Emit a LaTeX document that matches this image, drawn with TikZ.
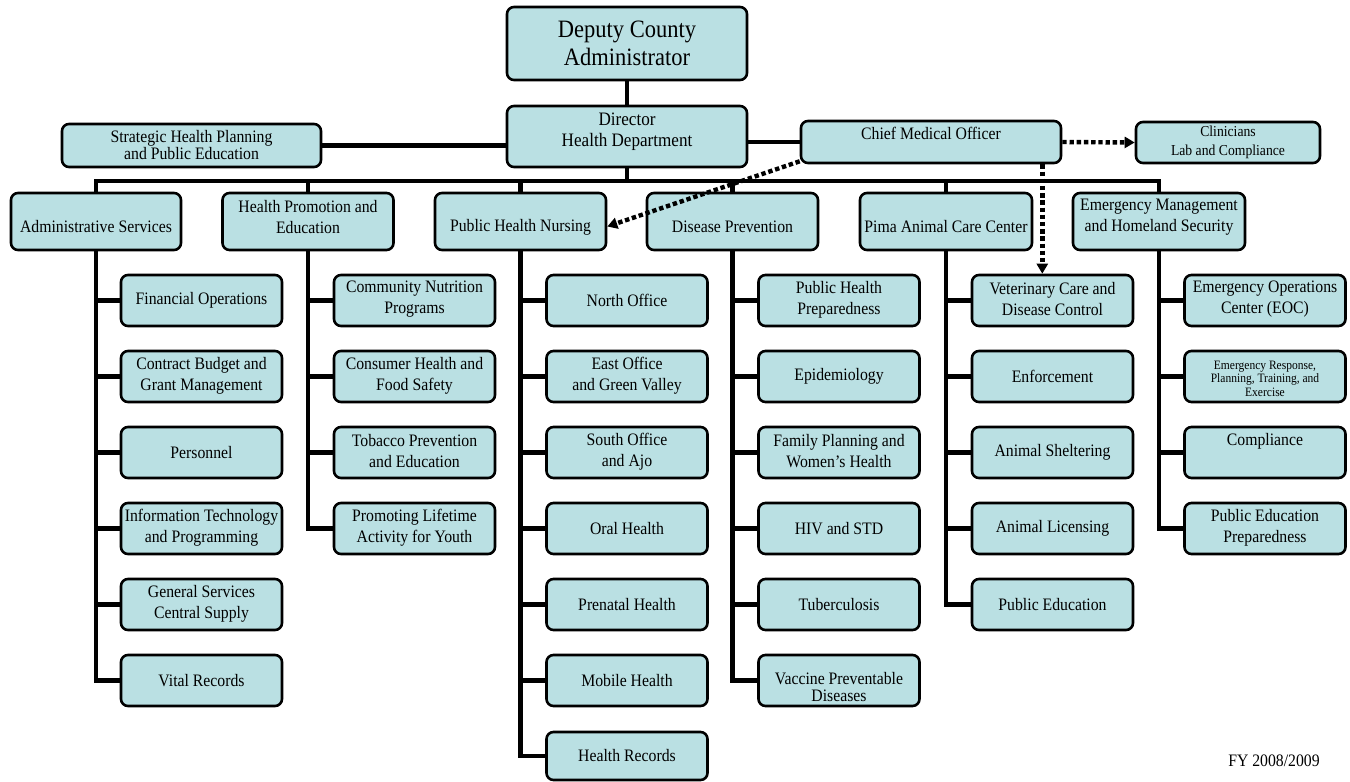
\documentclass[tikz,border=0pt]{standalone}
\usepackage{fontspec}
\setmainfont[FakeStretch=0.9]{Liberation Serif}
\usetikzlibrary{arrows.meta,calc}
\definecolor{boxfill}{RGB}{186,224,227}
\newcommand\orgbox[8]{%
  \node[obox, minimum width={#4*0.5pt}, minimum height={#5*0.5pt}] (#1) at (#2,#3) {};
  \node[otext,#7] (#1-t) at ($(#1.center)+(0,#6)$) {#8};}
\begin{document}
\begin{tikzpicture}[x=0.5pt,y=-0.5pt,
  obox/.style={draw=black, fill=boxfill, line width=1.3pt, rounded corners=3.5pt, inner sep=0pt},
  otext/.style={align=center, inner sep=0pt, font=\fontsize{8.75pt}{10.5pt}\selectfont},
  bigtext/.style={font=\fontsize{12.5pt}{13.8pt}\selectfont},
  dirtext/.style={font=\fontsize{9.5pt}{10.5pt}\selectfont},
  tighttext/.style={font=\fontsize{8.75pt}{8.5pt}\selectfont},
  smalltext/.style={font=\fontsize{7.6pt}{9.5pt}\selectfont},
  tinytext/.style={font=\fontsize{6.4pt}{6.75pt}\selectfont},
  conn/.style={line width=2.4pt, line join=miter},
  dotarrow/.style={line width=2.2pt, dash pattern=on 2.2pt off 1.4pt, -{Triangle[length=5pt,width=5.5pt]}},
]
\useasboundingbox (0,0) rectangle (1350,782);
% top level
\orgbox{dep}{627}{43.5}{240}{73}{0}{bigtext}{Deputy County\\Administrator}
\orgbox{dir}{627}{136.5}{240}{61}{-5}{dirtext}{Director\\Health Department}
\orgbox{strat}{191.5}{145.5}{259}{43}{0}{tighttext}{Strategic Health Planning\\and Public Education}
\orgbox{cmo}{931}{142}{260}{42}{-9}{}{Chief Medical Officer}
\orgbox{clin}{1228}{142.5}{184}{41}{0}{smalltext}{Clinicians\\Lab and Compliance}
% level 2
\orgbox{adm}{96}{221.5}{170}{57}{5.5}{}{Administrative Services}
\orgbox{hp}{308}{221.5}{171}{57}{-4.5}{}{Health Promotion and\\Education}
\orgbox{phn}{520.5}{221.5}{171}{57}{5.5}{}{Public Health Nursing}
\orgbox{dp}{732.5}{221.5}{171}{57}{5.5}{}{Disease Prevention}
\orgbox{pima}{946}{221.5}{172}{57}{5.5}{}{Pima Animal Care Center}
\orgbox{em}{1159}{221.5}{172}{57}{-4.5}{}{Emergency Management\\and Homeland Security}
% administrative services
\orgbox{a1}{201.5}{300.5}{161}{51}{0}{}{Financial Operations}
\orgbox{a2}{201.5}{376.5}{161}{51}{-1}{}{Contract Budget and\\Grant Management}
\orgbox{a3}{201.5}{452.5}{161}{51}{0}{}{Personnel}
\orgbox{a4}{201.5}{528.5}{161}{51}{-1}{}{Information Technology\\and Programming}
\orgbox{a5}{201.5}{604.5}{161}{51}{-1}{}{General Services\\Central Supply}
\orgbox{a6}{201.5}{680.5}{161}{51}{0}{}{Vital Records}
% health promotion
\orgbox{h1}{414.5}{300.5}{161}{51}{-1}{}{Community Nutrition\\Programs}
\orgbox{h2}{414.5}{376.5}{161}{51}{-1}{}{Consumer Health and\\Food Safety}
\orgbox{h3}{414.5}{452.5}{161}{51}{-1}{}{Tobacco Prevention\\and Education}
\orgbox{h4}{414.5}{528.5}{161}{51}{-1}{}{Promoting Lifetime\\Activity for Youth}
% public health nursing
\orgbox{p1}{627}{300.5}{161}{51}{0}{}{North Office}
\orgbox{p2}{627}{376.5}{161}{51}{-1}{}{East Office\\and Green Valley}
\orgbox{p3}{627}{452.5}{161}{51}{-1}{}{South Office\\and Ajo}
\orgbox{p4}{627}{528.5}{161}{51}{0}{}{Oral Health}
\orgbox{p5}{627}{604.5}{161}{51}{0}{}{Prenatal Health}
\orgbox{p6}{627}{680.5}{161}{51}{0}{}{Mobile Health}
\orgbox{p7}{627}{756}{161}{48}{0}{}{Health Records}
% disease prevention
\orgbox{d1}{839}{300.5}{161}{51}{-1}{}{Public Health\\Preparedness}
\orgbox{d2}{839}{376.5}{161}{51}{0}{}{Epidemiology}
\orgbox{d3}{839}{452.5}{161}{51}{-1}{}{Family Planning and\\Women’s Health}
\orgbox{d4}{839}{528.5}{161}{51}{0}{}{HIV and STD}
\orgbox{d5}{839}{604.5}{161}{51}{0}{}{Tuberculosis}
\orgbox{d6}{839}{680.5}{161}{51}{7}{tighttext}{Vaccine Preventable\\Diseases}
% pima animal care
\orgbox{m1}{1052.5}{300.5}{161}{51}{-1}{}{Veterinary Care and\\Disease Control}
\orgbox{m2}{1052.5}{376.5}{161}{51}{0}{}{Enforcement}
\orgbox{m3}{1052.5}{452.5}{161}{51}{0}{}{Animal Sheltering}
\orgbox{m4}{1052.5}{528.5}{161}{51}{0}{}{Animal Licensing}
\orgbox{m5}{1052.5}{604.5}{161}{51}{0}{}{Public Education}
% emergency management
\orgbox{e1}{1265}{300.5}{161}{51}{-1}{}{Emergency Operations\\Center (EOC)}
\orgbox{e2}{1265}{376.5}{161}{51}{2}{tinytext}{Emergency Response,\\Planning, Training, and\\Exercise}
\orgbox{e3}{1265}{452.5}{161}{51}{-11.5}{}{Compliance}
\orgbox{e4}{1265}{528.5}{161}{51}{-1}{}{Public Education\\Preparedness}
% connectors top
\draw[conn] (dep.south) -- (dir.north);
\draw[conn] (strat.east) -- (strat.east -| dir.west);
\draw[conn] (cmo.west) -- (cmo.west -| dir.east);
\coordinate (bus) at (627,181);
\draw[conn] (dir.south) -- (dir.south |- bus);
\draw[conn] (adm.north) -- (adm.north |- bus) -- (em.north |- bus) -- (em.north);
\foreach \n in {hp,phn,dp,pima} \draw[conn] (\n.north) -- (\n.north |- bus);
% branches
\draw[conn] (adm.south) |- (a6.west);
\foreach \i in {1,...,5} \draw[conn] (a\i.west) -- (adm.south |- a\i.west);
\draw[conn] (hp.south) |- (h4.west);
\foreach \i in {1,...,3} \draw[conn] (h\i.west) -- (hp.south |- h\i.west);
\draw[conn] (phn.south) |- (p7.west);
\foreach \i in {1,...,6} \draw[conn] (p\i.west) -- (phn.south |- p\i.west);
\draw[conn] (dp.south) |- (d6.west);
\foreach \i in {1,...,5} \draw[conn] (d\i.west) -- (dp.south |- d\i.west);
\draw[conn] (pima.south) |- (m5.west);
\foreach \i in {1,...,4} \draw[conn] (m\i.west) -- (pima.south |- m\i.west);
\draw[conn] (em.south) |- (e4.west);
\foreach \i in {1,...,3} \draw[conn] (e\i.west) -- (em.south |- e\i.west);
% dotted arrows
\coordinate (cmoSW) at ($(cmo.south west)+(0,-3)$);
\coordinate (phnE) at ($(phn.east)+(0,5)$);
\coordinate (cmoS) at ($(cmo.south east)+(-20,0)$);
\coordinate (vetN) at (cmoS |- m1.north);
\draw[dotarrow] (cmo.east) -- (clin.west);
\draw[dotarrow] (cmoSW) -- (phnE);
\draw[dotarrow] (cmoS) -- (vetN);
% footer
\node[otext] (fy) at (1274,761) {FY 2008/2009};
\end{tikzpicture}
\end{document}
